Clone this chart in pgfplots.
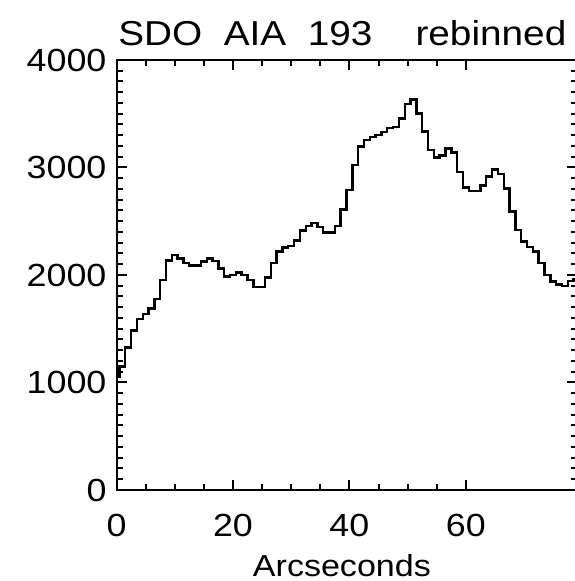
\documentclass[border=0pt]{standalone}
\usepackage{fontspec}
\setmainfont{Liberation Sans}[FakeStretch=1.12]
\usepackage{pgfplots}
\pgfplotsset{compat=1.18}
\begin{document}
\begin{tikzpicture}
\begin{axis}[
  at={(0,0)}, anchor=south west,
  scale only axis, width=230pt, height=215pt,
  xmin=0, xmax=79, ymin=0, ymax=4000,
  xtick={0,20,40,60}, minor x tick num=3,
  ytick={0,1000,2000,3000,4000}, minor y tick num=9,
  major tick length=5pt, minor tick length=3pt,
  tick align=inside,
  axis line style={line width=1pt},
  every tick/.style={line width=1pt, black},
  /pgf/number format/assume math mode=true,
  /pgf/number format/1000 sep={},
  ticklabel style={font=\fontsize{16}{16}\selectfont},
  xticklabel style={yshift=-8.5pt},
  yticklabel style={xshift=-1.5pt},
  xlabel={Arcseconds},
  xlabel style={at={(axis description cs:0.49,0)}, anchor=base, yshift=-43.3pt, font=\fontsize{15.2}{15.2}\selectfont},
  title={SDO\ \ AIA\ \ 193\ \ \ \ rebinned},
  every axis title shift=0pt,
  title style={at={(axis description cs:0.491,1)}, anchor=base, yshift=7pt, font=\fontsize{17.3}{17.3}\selectfont},
  clip=true,
]
\addplot[const plot mark mid, black, line width=1.2pt] coordinates {
(0,1050) (1,1147) (2,1327) (3,1482) (4,1588) (5,1637) (6,1690) (7,1774) (8,1953) (9,2133)
(10,2186) (11,2155) (12,2109) (13,2087) (14,2087) (15,2124) (16,2155) (17,2130) (18,2062) (19,1985)
(20,2000) (21,2025) (22,2000) (23,1953) (24,1891) (25,1891) (26,1975) (27,2109) (28,2217) (29,2255)
(30,2270) (31,2322) (32,2415) (33,2456) (34,2481) (35,2445) (36,2394) (37,2394) (38,2453) (39,2611)
(40,2788) (41,3023) (42,3194) (43,3256) (44,3281) (45,3302) (46,3330) (47,3370) (48,3374) (49,3457)
(50,3591) (51,3634) (52,3504) (53,3333) (54,3160) (55,3094) (56,3110) (57,3175) (58,3140) (59,2960)
(60,2815) (61,2784) (62,2784) (63,2832) (64,2918) (65,2980) (66,2940) (67,2806) (68,2589) (69,2419)
(70,2310) (71,2260) (72,2220) (73,2109) (74,2000) (75,1940) (76,1910) (77,1895) (78,1945) (79,1960)
};
\end{axis}
\pgfresetboundingbox
\useasboundingbox (-58.25pt,-45.5pt) rectangle (228.75pt,245pt);
\end{tikzpicture}
\end{document}
